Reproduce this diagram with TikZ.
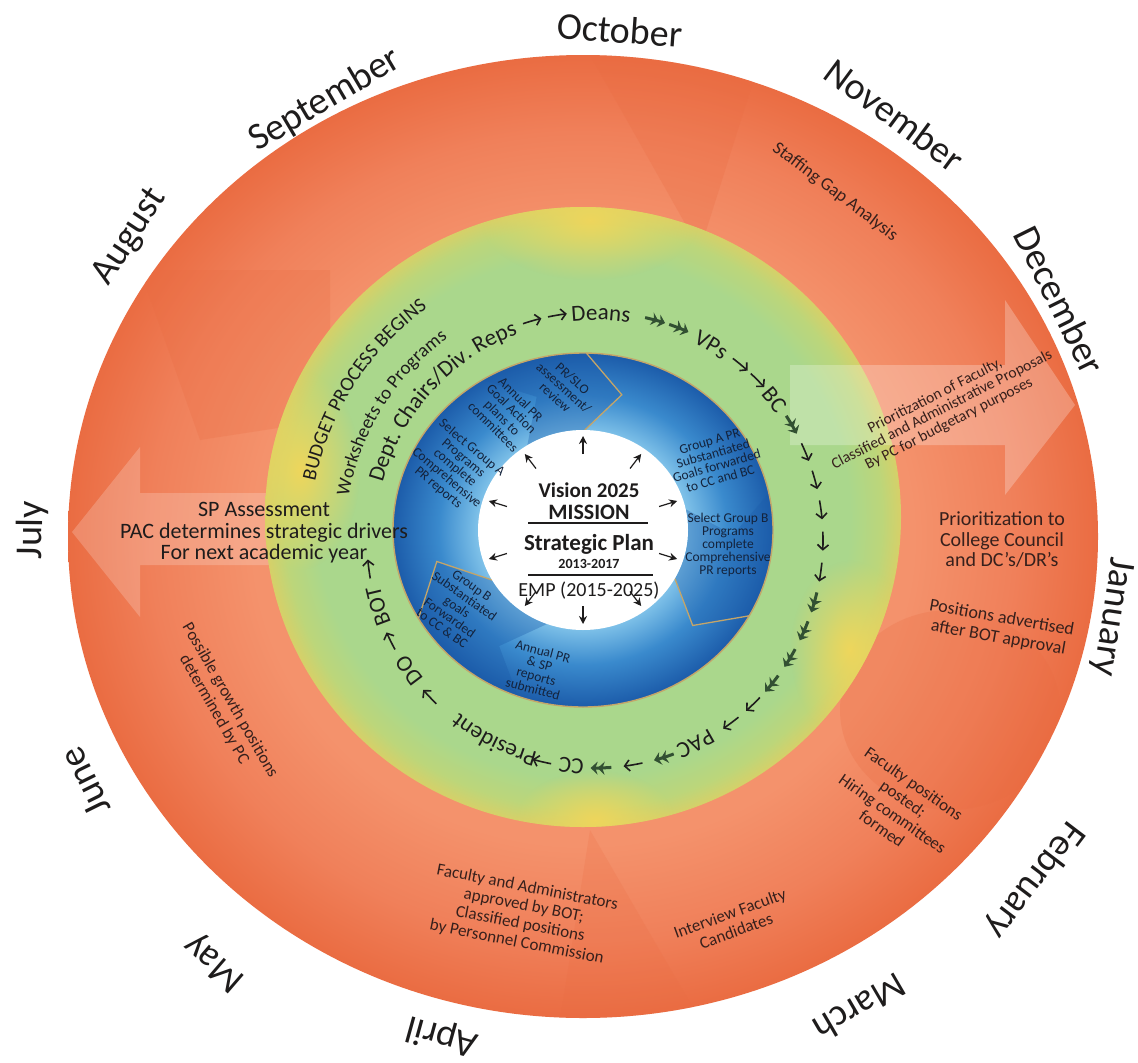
\documentclass[tikz,border=0pt]{standalone}
\usepackage{fontspec}
\setmainfont{Carlito}
\usetikzlibrary{decorations.text,arrows.meta,fadings,calc}

\definecolor{orBase}{RGB}{240,128,90}
\definecolor{orLight}{RGB}{244,146,108}
\definecolor{orDark}{RGB}{234,108,66}
\definecolor{grRing}{RGB}{170,215,140}
\definecolor{grYel}{RGB}{188,214,122}
\definecolor{grEdge}{RGB}{214,208,104}
\definecolor{yePatch}{RGB}{238,214,92}
\definecolor{blDark}{RGB}{28,92,170}
\definecolor{blMid}{RGB}{58,138,205}
\definecolor{blLight}{RGB}{125,192,232}
\definecolor{tanLine}{RGB}{196,165,105}
\definecolor{txt}{RGB}{30,28,28}
\definecolor{txtOr}{RGB}{55,32,28}
\definecolor{txtBl}{RGB}{20,35,60}
\definecolor{dkGreen}{RGB}{50,80,50}

\pgfdeclareradialshading{orshade}{\pgfpoint{0bp}{0bp}}{color(0bp)=(orLight); color(16bp)=(orLight); color(21bp)=(orBase); color(25bp)=(orDark); color(50bp)=(orDark)}
\pgfdeclareradialshading{grshade}{\pgfpoint{0bp}{0bp}}{color(0bp)=(grRing); color(21bp)=(grRing); color(23.5bp)=(grYel); color(25bp)=(grEdge); color(50bp)=(grEdge)}
\pgfdeclareradialshading{blshade}{\pgfpoint{0bp}{0bp}}{color(0bp)=(blLight); color(14bp)=(blLight); color(19bp)=(blMid); color(25bp)=(blDark); color(50bp)=(blDark)}
\tikzfading[name=blob, inner color=transparent!0, outer color=transparent!100]

\newcommand{\arctext}[5]{%
  \path[decorate, decoration={text along path, text align=center, text={|#4|#5}}]
    ($(TC)+({#1+#2}:#3)$) arc[start angle={#1+#2}, end angle={#1-#2}, radius=#3];}
\newcommand{\rarrow}[1]{%
  \draw[ringarrow] ($(TC)+({#1+2.4}:228)$) arc[start angle={#1+2.4}, end angle={#1-2.4}, radius=228];}
\newcommand{\darrow}[1]{%
  \draw[darkarrow] ($(TC)+({#1+2.6}:228)$) arc[start angle={#1+2.6}, end angle={#1-2.6}, radius=228];}
\newcommand{\chev}[3]{%
  \fill[blDark, opacity=.35] ($(BCen)+(#1:190 and 177)$) arc[start angle=#1, end angle=#2, x radius=190, y radius=177]
    -- ($(BCen)+(#3:150 and 140)$) -- ($(BCen)+(#2:105 and 100)$)
    arc[start angle=#2, end angle=#1, x radius=105, y radius=100]
    -- ($(BCen)+({#1-14}:150 and 140)$) -- cycle;
  \draw[tanLine, line width=1.3] ($(BCen)+(#2:190 and 177)$) -- ($(BCen)+(#3:150 and 140)$) -- ($(BCen)+(#2:105 and 100)$);}

\begin{document}
\begin{tikzpicture}[x=1pt,y=1pt,
  ringarrow/.style={txt, line width=1.6pt, -{Straight Barb[length=5pt,width=11pt]}},
  darkarrow/.style={dkGreen, line width=3pt, -{Stealth[length=7pt,width=13pt]Stealth[length=7pt,width=13pt]}},
  cenarrow/.style={txt, line width=1.2pt, -{Stealth[length=8pt,width=8pt]}},
  month/.style={font=\fontsize{38}{38}\selectfont, text=txt, inner sep=0pt},
  ortext/.style={font=\fontsize{17}{18.5}\selectfont, text=txtOr, align=center, inner sep=0pt},
  bltext/.style={font=\fontsize{13.5}{13}\selectfont, text=txtBl, align=center, inner sep=0pt},
  centext/.style={text=txt, inner sep=0pt}]
\useasboundingbox (0,0) rectangle (1138,-1063);
\fill[white] (0,0) rectangle (1138,-1063);
\coordinate (OC) at (583,-536.5);
\coordinate (GC) at (583,-517);
\coordinate (BCen) at (583,-530);
\coordinate (TC) at (595,-540);

% ---------- orange ring ----------
\shade[shading=orshade] (OC) ellipse[x radius=515, y radius=481.5];
\begin{scope}
  \clip (OC) ellipse[x radius=515, y radius=481.5];
  \fill[white, opacity=.2] (72,-532) -- (140,-447) -- (140,-493) -- (330,-493) -- (330,-565) -- (140,-565) -- (140,-617) -- cycle;
  \fill[orDark, opacity=.25] (590,-55) -- (700,-250) -- (760,-60) -- cycle;
  \fill[orDark, opacity=.25] (140,-270) -- (330,-270) -- (330,-420) -- (200,-440) -- cycle;
  \fill[orDark, opacity=.25] (950,-710) ellipse[x radius=110, y radius=100];
  \fill[orDark, opacity=.2] (590,-830) -- (560,-1020) -- (700,-1020) -- cycle;
\end{scope}

% ---------- green ring ----------
\shade[shading=grshade] (GC) ellipse[x radius=318, y radius=310];
\begin{scope}
  \clip (GC) ellipse[x radius=318, y radius=310];
  \fill[yePatch, path fading=blob] (590,-220) ellipse[x radius=110, y radius=60];
  \fill[yePatch, path fading=blob] (300,-470) ellipse[x radius=60, y radius=100];
  \fill[yePatch, path fading=blob] (595,-820) ellipse[x radius=80, y radius=50];
  \fill[yePatch, path fading=blob] (850,-650) ellipse[x radius=60, y radius=90];
\end{scope}
\fill[white, opacity=.25] (790,-365) -- (1005,-365) -- (1005,-300) -- (1075,-405) -- (1005,-495) -- (1005,-445) -- (790,-445) -- cycle;

% ---------- blue ring ----------
\shade[shading=blshade] (BCen) ellipse[x radius=190, y radius=177];
\chev{122}{89}{75}
\chev{12}{-29}{-43}
\chev{250}{210}{193}
\draw[tanLine, line width=1.4pt] (BCen) ellipse[x radius=190, y radius=177];
\fill[white] (BCen) ellipse[x radius=105, y radius=100];

% ---------- centre ----------
\node[centext, font=\fontsize{21}{21}\selectfont\bfseries] (vis) at (589,-490) {Vision 2025};
\node[centext, font=\fontsize{22}{22}\selectfont\bfseries] (mis) at (589,-512) {MISSION};
\draw[txt, line width=1.2pt] (528,-523) -- (648,-523);
\node[centext, font=\fontsize{23}{23}\selectfont\bfseries] (sp) at (589,-544) {Strategic Plan};
\node[centext, font=\fontsize{14}{14}\selectfont\bfseries] (yrs) at (589,-564) {2013-2017};
\draw[txt, line width=1.2pt] (528,-575) -- (653,-575);
\node[centext, font=\fontsize{20}{20}\selectfont] (emp) at (589,-591) {EMP (2015-2025)};
\foreach \a in {90,54,...,-234}{
  \draw[cenarrow] ($(BCen)+(\a:80 and 76)$) -- ($(BCen)+(\a:99 and 94)$);}

% ---------- blue ring texts ----------
\node[bltext, rotate=-42] (b1) at (564,-388) {PR/SLO\\assessment/\\review};
\node[bltext, rotate=-45] (b2) at (507,-413) {Annual PR\\Goal Action\\plans to\\committees};
\node[bltext, rotate=-40] (b3) at (455,-468) {Select Group A\\Programs\\complete\\Comprehensive\\PR reports};
\node[bltext, rotate=16] (b4) at (715,-460) {Group A PR\\Substantiated\\Goals forwarded\\to CC and BC};
\node[bltext, rotate=0] (b5) at (728,-545) {Select Group B\\Programs\\complete\\Comprehensive\\PR reports};
\node[bltext, rotate=-35] (b6) at (457,-607) {Group B\\Substantiated\\goals\\Forwarded\\to CC \& BC};
\node[bltext, rotate=-15] (b7) at (538,-670) {Annual PR\\\& SP\\reports\\submitted};

% ---------- green ring texts ----------
\arctext{147}{26}{286}{\fontsize{20}{20}\selectfont\color{txt}}{BUDGET PROCESS BEGINS}
\arctext{148}{26}{250}{\fontsize{19}{19}\selectfont\color{txt}}{Worksheets to Programs}
\arctext{137.7}{33}{220}{\fontsize{23}{23}\selectfont\color{txt}}{Dept. Chairs/Div. Reps}
\arctext{88.5}{12}{220}{\fontsize{23}{23}\selectfont\color{txt}}{Deans}
\arctext{59.2}{10}{220}{\fontsize{23}{23}\selectfont\color{txt}}{VPs}
\arctext{38}{8}{220}{\fontsize{23}{23}\selectfont\color{txt}}{BC}
\arctext{-63.7}{10}{220}{\fontsize{23}{23}\selectfont\color{txt}}{PAC}
\arctext{-96}{8}{220}{\fontsize{23}{23}\selectfont\color{txt}}{CC}
\arctext{-116.7}{18}{220}{\fontsize{23}{23}\selectfont\color{txt}}{President}
\arctext{-145}{8}{220}{\fontsize{23}{23}\selectfont\color{txt}}{DO}
\arctext{-163}{10}{220}{\fontsize{23}{23}\selectfont\color{txt}}{BOT}
\foreach \a in {106,99.5,50.4,44.5,22.7,15.3,7.6,-0.3,-8.1,-46.1,-53.4,-80.4,-103.5,-136.5,-153.7,-172.7}{
  \rarrow{\a}}
\foreach \a in {74.7,68.4,30.4,-15.9,-23.5,-31.2,-39.1,-72.4,-88.5}{
  \darrow{\a}}

% ---------- orange ring texts ----------
\node[ortext, rotate=-37, font=\fontsize{18}{18}\selectfont] (staff) at (835,-192) {Staffing Gap Analysis};
\node[ortext, rotate=27, font=\fontsize{15.5}{15.5}\selectfont] (pfac) at (942,-410) {Prioritization of Faculty,\\Classified and Administrative Proposals\\By PC for budgetary purposes};
\node[ortext, font=\fontsize{20}{20.5}\selectfont] (pcc) at (1002,-540) {Prioritization to\\College Council\\and DC’s/DR’s};
\node[ortext, rotate=-10, font=\fontsize{18}{20}\selectfont] (padv) at (1000,-628) {Positions advertised\\after BOT approval};
\node[ortext, rotate=-35] (fpos) at (898,-806) {Faculty positions\\posted;\\Hiring committees\\formed};
\node[ortext, rotate=20] (intv) at (733,-922) {Interview Faculty\\Candidates};
\node[ortext, rotate=-11] (fadm) at (522,-915) {Faculty and Administrators\\approved by BOT;\\Classified positions\\by Personnel Commission};
\node[ortext, rotate=-60] (grow) at (222,-705) {Possible growth positions\\determined by PC};
\node[ortext, text=txt, font=\fontsize{22}{21.5}\selectfont] (spa) at (264,-533) {SP Assessment\\PAC determines strategic drivers\\For next academic year};

% ---------- months ----------
\node[month, rotate=-4] (oct) at (620,-30) {October};
\node[month, rotate=-36.5] (nov) at (895,-115) {November};
\node[month, rotate=-63.7] (dec) at (1060,-300) {December};
\node[month, rotate=-98.6] (jan) at (1112,-617) {January};
\node[month, rotate=-127.3] (feb) at (1035,-880) {February};
\node[month, rotate=-149.7] (mar) at (860,-1008) {March};
\node[month, rotate=164.5] (apr) at (442,-1036) {April};
\node[month, rotate=139.2] (may) at (215,-962) {May};
\node[month, rotate=116.3] (jun) at (85,-782) {June};
\node[month, rotate=89.4] (jul) at (32,-530) {July};
\node[month, rotate=56.6] (aug) at (130,-237) {August};
\node[month, rotate=30.6] (sep) at (325,-100) {September};
\end{tikzpicture}
\end{document}
